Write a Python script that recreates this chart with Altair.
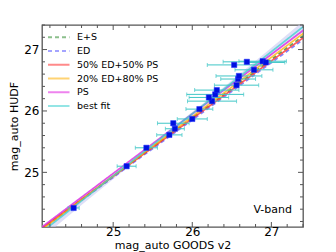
import altair as alt
import pandas as pd

# ---- data ----
goods_mag = [24.50, 25.17, 25.42, 25.71, 25.78, 25.76, 26.00, 26.09, 26.25, 26.21,
             26.29, 26.31, 26.56, 26.58, 26.59, 26.78, 26.53, 26.69, 26.89, 26.93]
hudf_mag = [24.42, 25.10, 25.40, 25.61, 25.71, 25.80, 25.87, 26.03, 26.16, 26.22,
            26.27, 26.34, 26.42, 26.52, 26.57, 26.67, 26.75, 26.80, 26.81, 26.79]
goods_err = [0.07, 0.12, 0.14, 0.16, 0.12, 0.20, 0.19, 0.17, 0.31, 0.25,
             0.36, 0.28, 0.28, 0.22, 0.29, 0.24, 0.34, 0.30, 0.30, 0.24]

model_names = ["E+S", "ED", "50% ED+50% PS", "20% ED+80% PS", "PS", "best fit"]
model_x_ends = [24.1, 27.4]
model_y_start = [24.08, 24.08, 24.09, 24.07, 24.11, 24.03]
model_y_end = [27.22, 27.16, 27.19, 27.26, 27.31, 27.37]

band_x = [24.1, 24.6, 25.2, 25.8, 26.4, 27.0, 27.4]
band_lo = [23.93, 24.47, 25.10, 25.72, 26.32, 26.90, 27.28]
band_hi = [24.13, 24.61, 25.18, 25.78, 26.39, 27.03, 27.46]

major_ticks = [25, 26, 27]
minor_ticks = [24.2, 24.4, 24.6, 24.8, 25.2, 25.4, 25.6, 25.8, 26.2, 26.4,
               26.6, 26.8, 27.2, 27.4]

# ---- styling ----
W, H = 261, 202
FONT = "DejaVu Sans"
model_colors = ["#2e8b2e", "#5a5aff", "#ff2a2a", "#ffae00", "#e01ee0", "#3ccfcf"]
model_dash = [[4, 3], [4, 3], [1, 0], [1, 0], [1, 0], [1, 0]]
FRAME = "#555555"

xscale = alt.Scale(domain=[24.1, 27.4], nice=False, zero=False)
yscale = alt.Scale(domain=[24.11, 27.4], nice=False, zero=False)
color_enc = alt.Color("model:N", sort=model_names,
                      scale=alt.Scale(domain=model_names, range=model_colors),
                      legend=None)
dash_enc = alt.StrokeDash("model:N", sort=model_names,
                          scale=alt.Scale(domain=model_names, range=model_dash),
                          legend=None)

pts = pd.DataFrame({"x": goods_mag, "y": hudf_mag, "e": goods_err})
pts["lo"] = pts["x"] - pts["e"]
pts["hi"] = pts["x"] + pts["e"]

rows = []
for i, n in enumerate(model_names):
    rows.append({"model": n, "x": model_x_ends[0], "y": model_y_start[i]})
    rows.append({"model": n, "x": model_x_ends[1], "y": model_y_end[i]})
lines_df = pd.DataFrame(rows)
band_df = pd.DataFrame({"x": band_x, "lo": band_lo, "hi": band_hi})
legend_df = pd.DataFrame({"model": model_names})

base_pts = alt.Chart(pts)

band = alt.Chart(band_df).mark_area(color="#c9c9f2", opacity=0.6, clip=True).encode(
    x=alt.X("x:Q", scale=xscale, axis=alt.Axis(
        values=major_ticks, format="d", title="mag_auto GOODS v2",
        titleColor="#000000", labelColor="#000000")),
    y=alt.Y("lo:Q", scale=yscale, axis=alt.Axis(
        values=major_ticks, format="d", title="mag_auto HUDF",
        titleColor="#000000", labelColor="#000000")),
    y2="hi:Q",
)

lines = alt.Chart(lines_df).mark_line(strokeWidth=1.7, opacity=0.75, clip=True).encode(
    x=alt.X("x:Q", scale=xscale),
    y=alt.Y("y:Q", scale=yscale),
    color=color_enc,
    strokeDash=dash_enc,
)

ebar = base_pts.mark_rule(color="#3fc6c6", strokeWidth=1).encode(
    x=alt.X("lo:Q", scale=xscale), x2="hi:Q", y=alt.Y("y:Q", scale=yscale))
cap_lo = base_pts.mark_tick(color="#3fc6c6", orient="vertical", size=4, thickness=1).encode(
    x=alt.X("lo:Q", scale=xscale), y=alt.Y("y:Q", scale=yscale))
cap_hi = base_pts.mark_tick(color="#3fc6c6", orient="vertical", size=4, thickness=1).encode(
    x=alt.X("hi:Q", scale=xscale), y=alt.Y("y:Q", scale=yscale))
points = base_pts.mark_square(size=28, color="#0010e0", opacity=1,
                              stroke="#2233ff", strokeWidth=0.5).encode(
    x=alt.X("x:Q", scale=xscale), y=alt.Y("y:Q", scale=yscale))

# inward ticks on all four sides
def xticks(vals, length):
    d = alt.Chart(pd.DataFrame({"v": vals}))
    b = d.mark_rule(color=FRAME, strokeWidth=1).encode(
        x=alt.X("v:Q", scale=xscale), y=alt.value(H), y2=alt.value(H - length))
    t = d.mark_rule(color=FRAME, strokeWidth=1).encode(
        x=alt.X("v:Q", scale=xscale), y=alt.value(0), y2=alt.value(length))
    return [b, t]

def yticks(vals, length):
    d = alt.Chart(pd.DataFrame({"v": vals}))
    l = d.mark_rule(color=FRAME, strokeWidth=1).encode(
        y=alt.Y("v:Q", scale=yscale), x=alt.value(0), x2=alt.value(length))
    r = d.mark_rule(color=FRAME, strokeWidth=1).encode(
        y=alt.Y("v:Q", scale=yscale), x=alt.value(W), x2=alt.value(W - length))
    return [l, r]

tick_layers = xticks(major_ticks, 5) + xticks(minor_ticks, 3) + \
    yticks(major_ticks, 5) + yticks(minor_ticks, 3)

label = alt.Chart(pd.DataFrame({"t": ["V-band"]})).mark_text(
    font=FONT, fontSize=11, align="right", baseline="middle", color="black"
).encode(text="t:N", x=alt.value(250), y=alt.value(185))

main = alt.layer(band, lines, ebar, cap_lo, cap_hi, points, label, *tick_layers)

# legend drawn inside the plot, upper left (no frame)
leg_y = alt.Y("model:N", sort=model_names, axis=None,
              scale=alt.Scale(type="point", domain=model_names, range=[12.3, 81], padding=0))
leg_lines = alt.Chart(legend_df).mark_rule(strokeWidth=2, opacity=0.55).encode(
    x=alt.value(6), x2=alt.value(27.5), y=leg_y, color=color_enc, strokeDash=dash_enc)
leg_text = alt.Chart(legend_df).mark_text(
    font=FONT, fontSize=9.5, align="left", baseline="middle", color="black"
).encode(x=alt.value(35), y=leg_y, text="model:N")
leg = alt.layer(leg_lines, leg_text)

chart = alt.layer(main, leg).resolve_scale(y="independent").properties(
    width=W, height=H,
    autosize=alt.AutoSizeParams(type="none"),
    padding={"left": 34, "top": 17, "right": 20, "bottom": 27},
).configure_view(
    stroke=FRAME, strokeWidth=1.3
).configure_axis(
    ticks=False, domain=False, grid=False,
    labelFont=FONT, labelFontSize=12, labelColor="black",
    titleFont=FONT, titleFontSize=11, titleFontWeight="normal", titleColor="black",
).configure_axisX(
    labelPadding=-1, titlePadding=2,
).configure_axisY(
    labelPadding=3, titlePadding=4,
)

chart.save("out.html", embed_options={"renderer": "svg", "actions": False})
